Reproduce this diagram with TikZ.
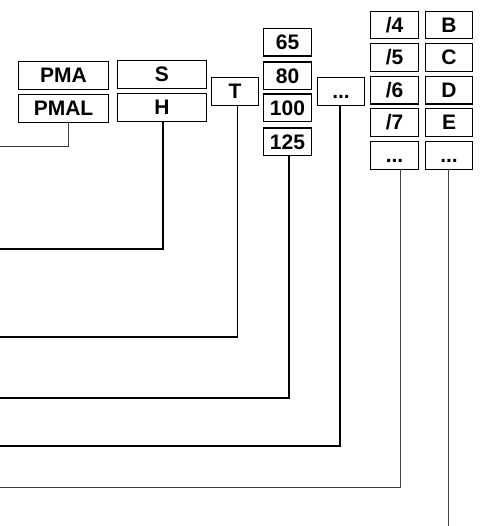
\documentclass[tikz,border=0pt]{standalone}
\usepackage{fontspec}
\setmainfont{Liberation Sans}
\begin{document}
\begin{tikzpicture}[x=1pt,y=-1pt,
  cbox/.style={draw=black,line width=1.3pt,inner sep=0pt,outer sep=0pt,
    minimum height=27.5pt,text height=14.5pt,text depth=0pt,
    font=\fontsize{21}{21}\selectfont\bfseries},
  wA/.style={cbox,minimum width=90pt},
  wB/.style={cbox,minimum width=47.5pt},
  thick link/.style={line width=1.3pt,black},
  thin link/.style={line width=0.9pt,black!75}]
\useasboundingbox (0,0) rectangle (481,526);
% boxes
\node[wA] (pma)  at (63.5,75.5) {PMA};
\node[wA] (pmal) at (63.5,108.5) {PMAL};
\node[wA,minimum width=89pt] (s) at (162,74.5) {S};
\node[wA,minimum width=89pt] (h) at (162,107.5) {H};
\node[wB] (t) at (235,91.5) {T};
\node[wB] (n65)  at (287.5,42.2) {65};
\node[wB] (n80)  at (287.5,75.8) {80};
\node[wB] (n100) at (287.5,107.8) {100};
\node[wB] (n125) at (287.5,141.8) {125};
\node[wB] (dots) at (341,91.5) {...};
\node[wB] (s4) at (394.5,25) {/4};
\node[wB] (s5) at (394.5,57.5) {/5};
\node[wB] (s6) at (394.5,90.2) {/6};
\node[wB] (s7) at (394.5,122.5) {/7};
\node[wB] (sd) at (394.5,155.5) {...};
\node[wB] (lb) at (449,25) {B};
\node[wB] (lc) at (449,57.5) {C};
\node[wB] (ld) at (449,90.2) {D};
\node[wB] (le) at (449,122.5) {E};
\node[wB] (ldd) at (449,155.5) {...};
% free ends and drop columns
\coordinate (e1) at (0,146);   \coordinate (c1) at (68,146);
\coordinate (e2) at (0,249);   \coordinate (c2) at (163,249);
\coordinate (e3) at (0,337);   \coordinate (c3) at (237.5,337);
\coordinate (e4) at (0,398);   \coordinate (c4) at (289,398);
\coordinate (e5) at (0,446);   \coordinate (c5) at (340,446);
\coordinate (e6) at (0,487);   \coordinate (c6) at (400,487);
\coordinate (e7) at (448,526);
% connectors
\draw[thin link] (pmal.south -| c1) |- (e1);
\draw[thick link] (h.south -| c2) |- (e2);
\draw[thick link] (t.south -| c3) |- (e3);
\draw[thick link] (n125.south -| c4) |- (e4);
\draw[thick link,line width=1.1pt] (dots.south -| c5) |- (e5);
\draw[thin link] (sd.south -| c6) |- (e6);
\draw[thin link,line width=0.8pt] (ldd.south -| e7) -- (e7);
\end{tikzpicture}
\end{document}
